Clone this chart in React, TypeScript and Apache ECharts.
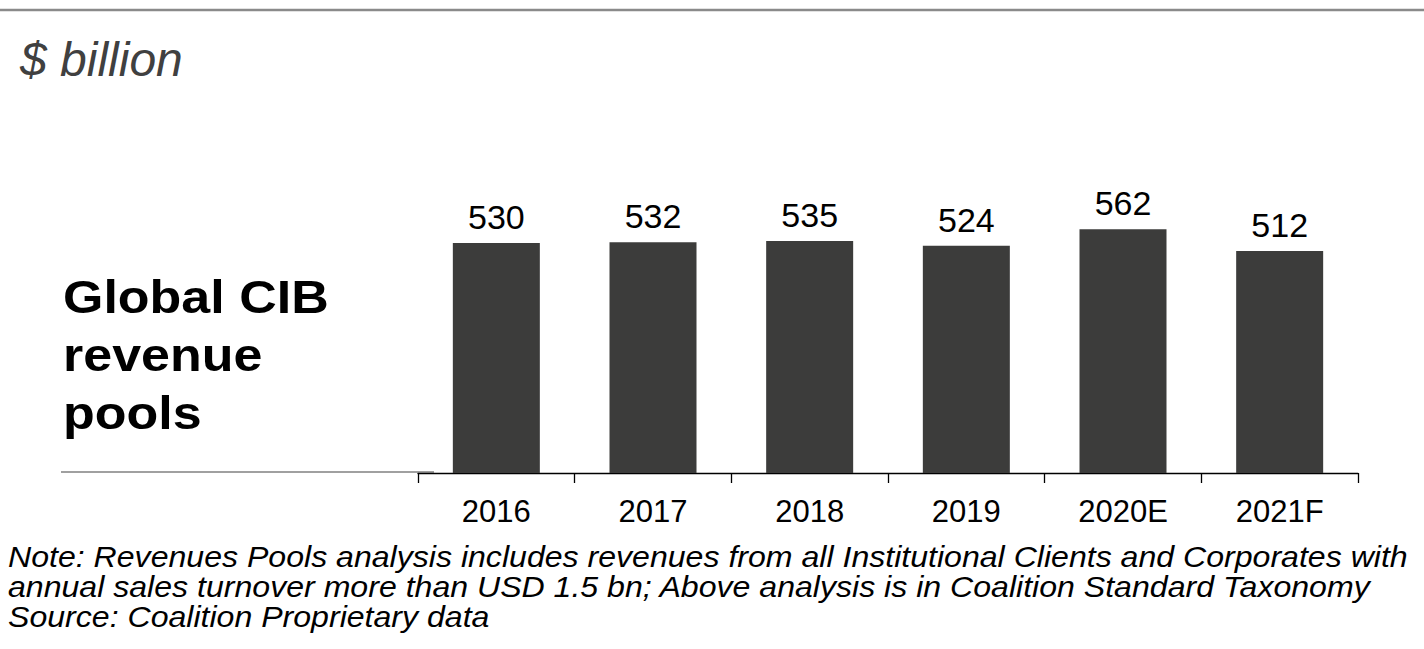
import React, { useEffect, useRef } from "react";
import * as echarts from "echarts";

const categories = ["2016", "2017", "2018", "2019", "2020E", "2021F"];
const revenues = [530, 532, 535, 524, 562, 512];
const unitLabel = "$ billion";
const titleLines = ["Global CIB", "revenue", "pools"];
const noteLines = [
  "Note: Revenues Pools analysis includes revenues from all Institutional Clients and Corporates with",
  "annual sales turnover more than USD 1.5 bn; Above analysis is in Coalition Standard Taxonomy",
  "Source: Coalition Proprietary data",
];

const FONT = '"Liberation Sans", Arial, Helvetica, sans-serif';

export default function App() {
  const ref = useRef<HTMLDivElement>(null);
  useEffect(() => {
    if (!ref.current) return;
    const chart = echarts.init(ref.current, undefined, { renderer: "svg" });
    chart.setOption({
      animation: false,
      backgroundColor: "#ffffff",
      grid: { left: 418, right: 66, top: 126, bottom: 176, containLabel: false },
      xAxis: {
        type: "category",
        data: categories,
        axisLine: { show: true, lineStyle: { color: "#000000", width: 1.3 } },
        axisTick: { show: true, length: 10, lineStyle: { color: "#000000", width: 1.3 } },
        axisLabel: { color: "#000000", fontSize: 31, fontFamily: FONT, margin: 23 },
      },
      yAxis: {
        type: "value",
        min: 0,
        max: 800,
        show: false,
        splitLine: { show: false },
      },
      series: [
        {
          type: "bar",
          data: revenues,
          barWidth: 87,
          itemStyle: { color: "#3c3c3b" },
          label: {
            show: true,
            position: "top",
            distance: 9,
            color: "#000000",
            fontSize: 34,
            fontFamily: FONT,
          },
        },
      ],
      graphic: [
        {
          type: "line",
          shape: { x1: 0, y1: 10, x2: 1424, y2: 10 },
          style: { stroke: "#8a8a8a", lineWidth: 2.5 },
        },
        {
          type: "text",
          x: 20,
          y: 35,
          style: {
            text: unitLabel,
            fontSize: 48,
            fontStyle: "italic",
            fontFamily: FONT,
            fill: "#404040",
            align: "left",
            verticalAlign: "top",
          },
        },
        {
          type: "text",
          x: 63,
          y: 268,
          scaleX: 1.13,
          style: {
            text: titleLines.join("\n"),
            fontSize: 46,
            fontWeight: "bold",
            lineHeight: 58,
            fontFamily: FONT,
            fill: "#000000",
            align: "left",
            verticalAlign: "top",
          },
        },
        {
          type: "line",
          shape: { x1: 61, y1: 472, x2: 434, y2: 472 },
          style: { stroke: "#808080", lineWidth: 1.5 },
        },
        {
          type: "text",
          x: 8,
          y: 542,
          scaleX: 1.07,
          style: {
            text: noteLines.join("\n"),
            fontSize: 30,
            fontStyle: "italic",
            lineHeight: 30,
            fontFamily: FONT,
            fill: "#000000",
            align: "left",
            verticalAlign: "top",
          },
        },
      ],
    });
    return () => chart.dispose();
  }, []);
  return (
    <div
      ref={ref}
      style={{ position: "fixed", left: 0, top: 0, width: 1424, height: 649 }}
    />
  );
}
